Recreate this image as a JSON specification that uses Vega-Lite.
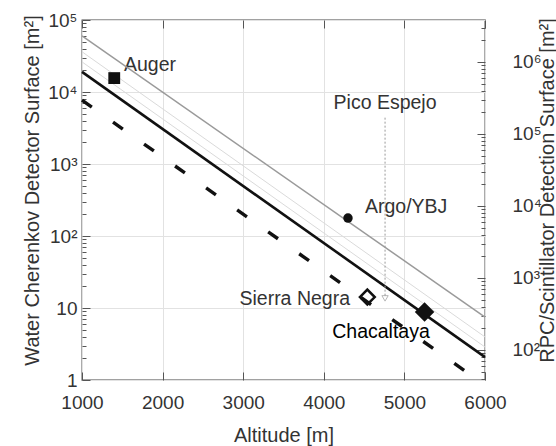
{
  "$schema": "https://vega.github.io/schema/vega-lite/v6.json",
  "width": 403,
  "height": 360,
  "autosize": {"type": "none"},
  "padding": {"left": 82, "top": 20, "right": 71, "bottom": 66},
  "background": "white",
  "config": {
    "view": {"stroke": "#444", "strokeWidth": 1.3},
    "font": "Liberation Sans",
    "axis": {
      "labelFont": "Liberation Sans",
      "titleFont": "Liberation Sans",
      "labelFontSize": 19,
      "titleFontSize": 20,
      "titleFontWeight": "normal",
      "labelColor": "#333",
      "titleColor": "#333",
      "domain": false,
      "gridColor": "#e2e2e2",
      "gridWidth": 1,
      "tickColor": "#555",
      "tickWidth": 1,
      "labelFlush": false,
      "labelOverlap": false,
      "labelBound": false
    }
  },
  "layer": [
    {
      "encoding": {
        "x": {
          "field": "alt",
          "type": "quantitative",
          "scale": {"domain": [1000, 6000], "nice": false, "zero": false},
          "axis": {
            "orient": "bottom",
            "values": [1000, 2000, 3000, 4000, 5000, 6000],
            "format": "d",
            "grid": true,
            "tickSize": -8,
            "labelPadding": 21,
            "title": "Altitude [m]",
            "titleX": 201.5,
            "titleY": 55,
            "titleBaseline": "middle",
            "titleAlign": "center"
          }
        },
        "y": {
          "field": "val",
          "type": "quantitative",
          "scale": {"type": "log", "domain": [1, 100000], "nice": false},
          "axis": {
            "orient": "left",
            "values": [1,2,3,4,5,6,7,8,9,10,20,30,40,50,60,70,80,90,100,200,300,400,500,600,700,800,900,1000,2000,3000,4000,5000,6000,7000,8000,9000,10000,20000,30000,40000,50000,60000,70000,80000,90000,100000],
            "labelExpr": "datum.value==1?'1':datum.value==10?'10':datum.value==100?'10²':datum.value==1000?'10³':datum.value==10000?'10⁴':datum.value==100000?'10⁵':''",
            "grid": true,
            "gridOpacity": {"condition": {"test": "indexof([1,10,100,1000,10000,100000], datum.value) >= 0", "value": 1}, "value": 0},
            "tickSize": {"condition": {"test": "indexof([1,10,100,1000,10000,100000], datum.value) >= 0", "value": -8}, "value": -4},
            "labelPadding": 13,
            "labelBaseline": "middle",
            "title": "Water Cherenkov Detector Surface [m²]",
            "titleAngle": -90,
            "titleX": -50,
            "titleY": 170,
            "titleBaseline": "middle",
            "titleAlign": "center"
          }
        }
      },
      "layer": [
        {
          "data": {"values": [
            {"series": "f1", "alt": 1000, "val": 26200},
            {"series": "f1", "alt": 6000, "val": 2.87},
            {"series": "f2", "alt": 1000, "val": 36200},
            {"series": "f2", "alt": 6000, "val": 3.96}
          ]},
          "mark": {"type": "line", "color": "#dadada", "strokeWidth": 1},
          "encoding": {"detail": {"field": "series"}}
        },
        {
          "data": {"values": [
            {"alt": 1000, "val": 19000},
            {"alt": 6000, "val": 2.08}
          ]},
          "mark": {"type": "line", "color": "#111", "strokeWidth": 2.6},
          "encoding": {}
        },
        {
          "data": {"values": [
            {"alt": 1000, "val": 7700},
            {"alt": 5770, "val": 1.29}
          ]},
          "mark": {"type": "line", "color": "#111", "strokeWidth": 3.4, "strokeDash": [12, 26], "strokeCap": "butt"},
          "encoding": {}
        },
        {
          "data": {"values": [{"alt": 4760, "val": 4400, "val2": 14.8}]},
          "mark": {"type": "rule", "color": "#999", "strokeWidth": 1, "strokeDash": [2, 2]},
          "encoding": {"y2": {"field": "val2"}}
        },
        {
          "data": {"values": [{"alt": 4760, "val": 13.6}]},
          "mark": {"type": "point", "shape": "triangle-down", "filled": false, "stroke": "#999", "strokeWidth": 1, "size": 40},
          "encoding": {}
        },
        {
          "data": {"values": [{"alt": 1400, "val": 15600}]},
          "mark": {"type": "point", "shape": "square", "filled": true, "color": "#111", "size": 140, "opacity": 1},
          "encoding": {}
        },
        {
          "data": {"values": [{"alt": 4540, "val": 14.2}]},
          "mark": {"type": "point", "shape": "diamond", "filled": false, "color": "#111", "strokeWidth": 2.5, "size": 220, "opacity": 1},
          "encoding": {}
        },
        {
          "data": {"values": [{"alt": 5250, "val": 8.8}]},
          "mark": {"type": "point", "shape": "diamond", "filled": true, "color": "#111", "size": 380, "opacity": 1},
          "encoding": {}
        },
        {
          "data": {"values": [{"alt": 1521, "val": 23700, "label": "Auger"}]},
          "mark": {"type": "text", "align": "left", "baseline": "middle", "font": "Liberation Sans", "fontSize": 19.5, "color": "#333"},
          "encoding": {"text": {"field": "label"}}
        },
        {
          "data": {"values": [{"alt": 4760, "val": 7000, "label": "Pico Espejo"}]},
          "mark": {"type": "text", "align": "center", "baseline": "middle", "font": "Liberation Sans", "fontSize": 19.5, "color": "#333"},
          "encoding": {"text": {"field": "label"}}
        },
        {
          "data": {"values": [{"alt": 4325, "val": 13.3, "label": "Sierra Negra"}]},
          "mark": {"type": "text", "align": "right", "baseline": "middle", "font": "Liberation Sans", "fontSize": 19.5, "color": "#333"},
          "encoding": {"text": {"field": "label"}}
        },
        {
          "data": {"values": [{"alt": 4710, "val": 4.64, "label": "Chacaltaya"}]},
          "mark": {"type": "text", "align": "center", "baseline": "middle", "font": "Liberation Sans", "fontSize": 19.5, "color": "#000"},
          "encoding": {"text": {"field": "label"}}
        }
      ]
    },
    {
      "encoding": {
        "x": {"field": "alt", "type": "quantitative", "scale": {"domain": [1000, 6000], "nice": false, "zero": false}, "axis": null},
        "y": {
          "field": "val",
          "type": "quantitative",
          "scale": {"type": "log", "domain": [38.3, 3830000], "nice": false},
          "axis": {
            "orient": "right",
            "values": [40,50,60,70,80,90,100,200,300,400,500,600,700,800,900,1000,2000,3000,4000,5000,6000,7000,8000,9000,10000,20000,30000,40000,50000,60000,70000,80000,90000,100000,200000,300000,400000,500000,600000,700000,800000,900000,1000000,2000000,3000000],
            "labelExpr": "datum.value==100?'10²':datum.value==1000?'10³':datum.value==10000?'10⁴':datum.value==100000?'10⁵':datum.value==1000000?'10⁶':''",
            "grid": false,
            "tickSize": {"condition": {"test": "indexof([100,1000,10000,100000,1000000], datum.value) >= 0", "value": -8}, "value": -4},
            "labelPadding": 35,
            "labelBaseline": "middle",
            "title": "RPC/Scintillator Detection Surface [m²]",
            "titleAngle": -90,
            "titleX": 62,
            "titleY": 170,
            "titleBaseline": "middle",
            "titleAlign": "center"
          }
        }
      },
      "layer": [
        {
          "data": {"values": [
            {"alt": 1000, "val": 2300000},
            {"alt": 6000, "val": 287}
          ]},
          "mark": {"type": "line", "color": "#9a9a9a", "strokeWidth": 1.5},
          "encoding": {}
        },
        {
          "data": {"values": [{"alt": 4300, "val": 6800}]},
          "mark": {"type": "point", "shape": "circle", "filled": true, "color": "#111", "size": 90, "opacity": 1},
          "encoding": {}
        },
        {
          "data": {"values": [{"alt": 4511, "val": 9650, "label": "Argo/YBJ"}]},
          "mark": {"type": "text", "align": "left", "baseline": "middle", "font": "Liberation Sans", "fontSize": 19.5, "color": "#333"},
          "encoding": {"text": {"field": "label"}}
        }
      ]
    },
    {
      "data": {"values": [{"alt": 1000}, {"alt": 6000}]},
      "mark": {"type": "point", "opacity": 0},
      "encoding": {
        "x": {
          "field": "alt",
          "type": "quantitative",
          "scale": {"domain": [1000, 6000], "nice": false, "zero": false},
          "axis": {"orient": "top", "values": [1000, 2000, 3000, 4000, 5000, 6000], "labels": false, "grid": false, "domain": false, "tickSize": -8, "title": null}
        }
      }
    }
  ],
  "resolve": {"scale": {"y": "independent"}, "axis": {"x": "independent", "y": "independent"}}
}
